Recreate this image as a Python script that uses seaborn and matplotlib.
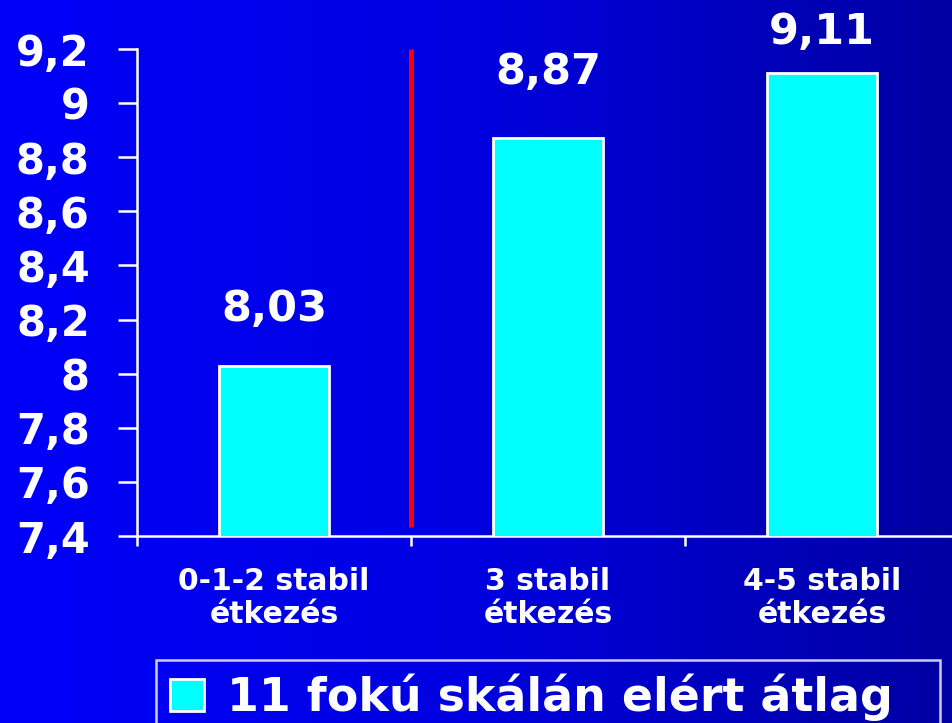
import numpy as np
import matplotlib
matplotlib.use("Agg")
import matplotlib.pyplot as plt
import seaborn as sns
from matplotlib.colors import LinearSegmentedColormap

categories = ["0-1-2 stabil\nétkezés", "3 stabil\nétkezés", "4-5 stabil\nétkezés"]
values = [8.03, 8.87, 9.11]
value_labels = ["8,03", "8,87", "9,11"]
y_ticks = [7.4, 7.6, 7.8, 8.0, 8.2, 8.4, 8.6, 8.8, 9.0, 9.2]
y_tick_labels = ["7,4", "7,6", "7,8", "8", "8,2", "8,4", "8,6", "8,8", "9", "9,2"]
legend_label = "11 fokú skálán elért átlag"
divider_x = 0.5
divider_range = [7.433, 9.2]

label_offsets = [36, 45, 20]  # px gap above bar tops (style)

sns.set_theme(style="white")
plt.rcParams['font.family'] = ['DejaVu Sans']
plt.rcParams['font.weight'] = 'bold'

W, H = 953, 723
fig = plt.figure(figsize=(W / 100, H / 100), dpi=100)

# background gradient
bg = fig.add_axes([0, 0, 1, 1], zorder=-10)
cmap = LinearSegmentedColormap.from_list("bg", ["#0000FA", "#0000E0", "#0000A2"])
grad = np.linspace(0, 1, 256).reshape(1, -1)
bg.imshow(grad, aspect="auto", cmap=cmap, extent=[0, 1, 0, 1])
bg.set_axis_off()

x0, x1 = 137 / W, 959 / W
y0, y1 = 1 - 536 / H, 1 - 49 / H
ax = fig.add_axes([x0, y0, x1 - x0, y1 - y0])
ax.set_facecolor("none")

sns.barplot(x=categories, y=values, color="#00FFFF", width=0.4, saturation=1,
            edgecolor="white", linewidth=2, label=legend_label, ax=ax, zorder=3)

ax.set_ylim(7.4, 9.2)
ax.set_xlim(-0.5, 2.5)
ax.set_yticks(y_ticks)
ax.set_yticklabels(y_tick_labels)

ax.vlines(divider_x, divider_range[0], divider_range[1], color="#FF0000", linewidth=3.5, zorder=4)

for i, (v, lab) in enumerate(zip(values, value_labels)):
    ax.annotate(lab, xy=(i, v), xytext=(0, label_offsets[i] * 0.72), textcoords="offset points",
                ha="center", va="bottom", color="white", fontsize=31, fontweight="bold")

for s in ["top", "right"]:
    ax.spines[s].set_visible(False)
for s in ["left", "bottom"]:
    ax.spines[s].set_color("white")
    ax.spines[s].set_linewidth(1.8)

ax.tick_params(axis="y", which="major", left=True, length=14, width=1.8, color="white",
               labelcolor="white", labelsize=30, pad=20)
ax.tick_params(axis="x", which="major", bottom=False, length=0, labelcolor="white",
               labelsize=21.5, pad=22)
ax.set_xticks([-0.5, 0.5, 1.5, 2.5], minor=True)
ax.tick_params(axis="x", which="minor", bottom=True, length=7, width=1.8, color="white")
for t in ax.get_xticklabels():
    t.set_linespacing(1.2)
    t.set_fontweight("bold")
for t in ax.get_yticklabels():
    t.set_fontweight("bold")
ax.set_xlabel("")
ax.set_ylabel("")
ax.grid(False)

lx0 = 156 / W
ltop = 1 - 660 / H
leg = ax.legend(loc="upper left", bbox_to_anchor=(lx0, ltop - 0.12, 940 / W - lx0, 0.12),
                bbox_transform=fig.transFigure, mode="expand", frameon=True,
                fancybox=False, facecolor="none", edgecolor="white",
                prop={"size": 33, "weight": "bold"}, handlelength=0.75, handleheight=0.7,
                handletextpad=0.5, borderpad=0.3, borderaxespad=0)
leg.get_frame().set_linewidth(1.8)
for t in leg.get_texts():
    t.set_color("white")

fig.savefig("out.png", dpi=100)
